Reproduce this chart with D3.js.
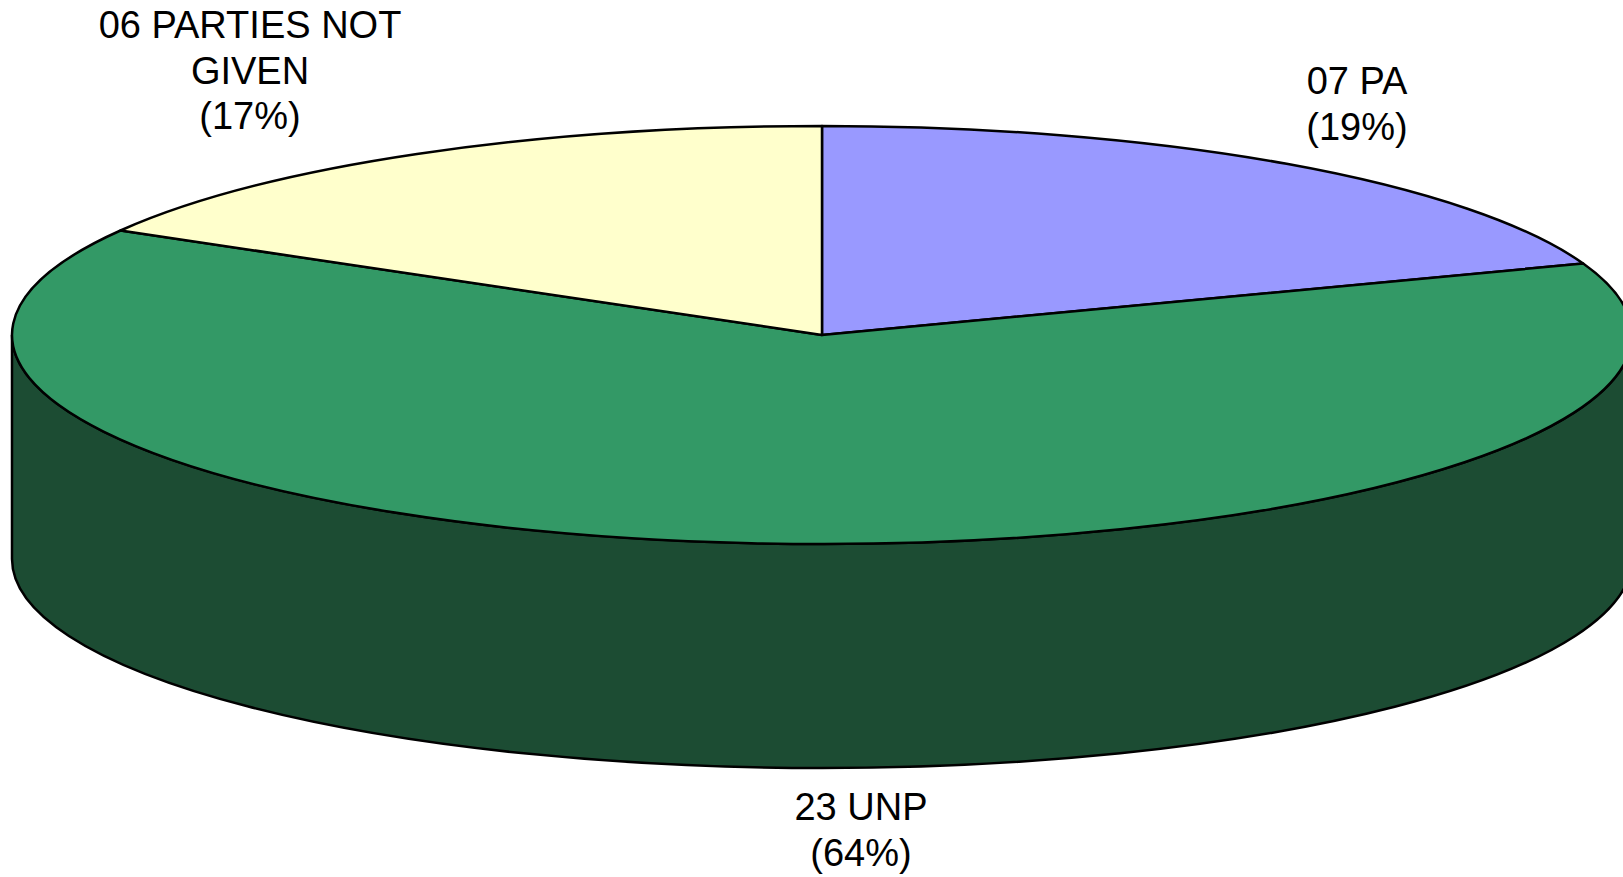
<!DOCTYPE html>
<html>
<head>
<meta charset="utf-8">
<style>
  html, body { margin: 0; padding: 0; background: #fff; overflow: hidden; }
  text { font-family: "Liberation Sans", Arial, sans-serif; font-size: 38px; fill: #000; text-anchor: middle; }
</style>
<script src="https://cdnjs.cloudflare.com/ajax/libs/d3/7.8.5/d3.min.js"></script>
</head>
<body>
<svg id="chart" width="1623" height="877"></svg>
<script>
// slice order is clockwise from 12 o'clock
const categories = ["07 PA", "23 UNP", "06 PARTIES NOT GIVEN"];
const counts = [7, 23, 6];
const percents = ["(19%)", "(64%)", "(17%)"];
const topColors = ["#9999ff", "#339966", "#ffffcc"];
const sideColor = "#1c4c33";
const labelLines = [["07 PA"], ["23 UNP"], ["06 PARTIES NOT", "GIVEN"]];
const labelPos = [[1357, 94], [861, 820], [250, 38]];

const width = 1623, height = 877;
const cx = 822, cy = 335, rx = 810, ry = 209, depth = 224;

const svg = d3.select("#chart");

const slices = d3.pie().sort(null).value(d => d)(counts);

// pie angle -> point on the flattened ellipse
function pt(a, yOff = 0) {
  return [cx + rx * Math.sin(a), cy + yOff - ry * Math.cos(a)];
}

function topPath(s) {
  const p0 = pt(s.startAngle), p1 = pt(s.endAngle);
  const large = s.endAngle - s.startAngle > Math.PI ? 1 : 0;
  return `M${cx},${cy}L${p0}A${rx},${ry} 0 ${large} 1 ${p1}Z`;
}

// front wall, only the lower half of the ellipse shows
const sidePath = `M${cx - rx},${cy}L${cx - rx},${cy + depth}A${rx},${ry} 0 0 0 ${cx + rx},${cy + depth}L${cx + rx},${cy}A${rx},${ry} 0 0 1 ${cx - rx},${cy}Z`;

svg.append("path")
  .attr("d", sidePath)
  .attr("fill", sideColor)
  .attr("stroke", "#000")
  .attr("stroke-width", 2.5);

svg.selectAll("path.top")
  .data(slices)
  .enter()
  .append("path")
  .attr("class", "top")
  .attr("d", topPath)
  .attr("fill", (d, i) => topColors[i])
  .attr("stroke", "#000")
  .attr("stroke-width", 2.5)
  .attr("stroke-linejoin", "round");

const lineH = 45.5;
categories.forEach((c, i) => {
  const t = svg.append("text")
    .attr("x", labelPos[i][0])
    .attr("y", labelPos[i][1]);
  labelLines[i].concat(percents[i]).forEach((line, j) => {
    t.append("tspan")
      .attr("x", labelPos[i][0])
      .attr("dy", j == 0 ? 0 : lineH)
      .text(line);
  });
});
</script>
</body>
</html>
